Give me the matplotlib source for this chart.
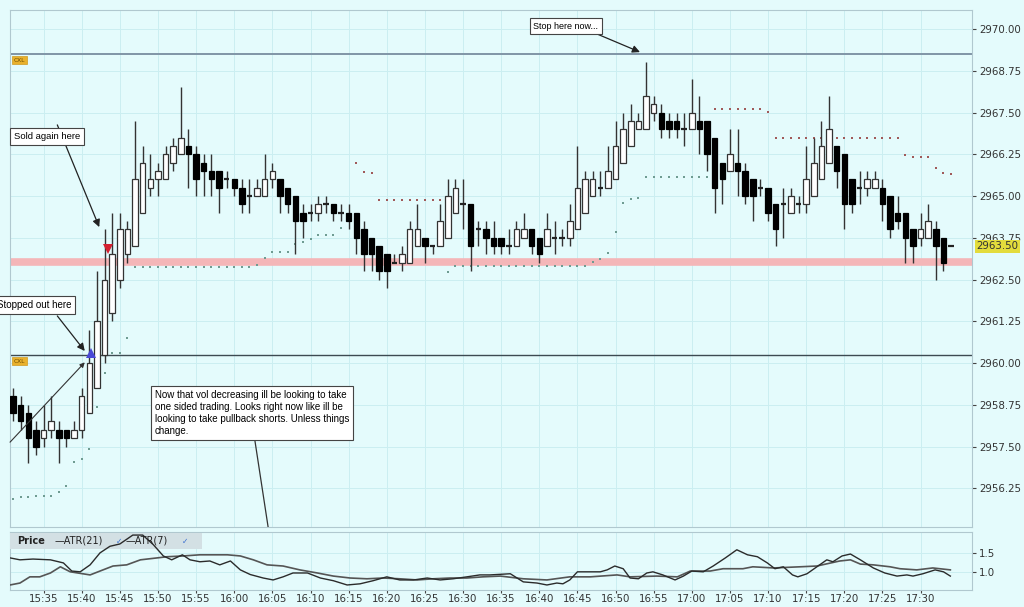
import matplotlib
matplotlib.use("Agg")
import matplotlib.pyplot as plt
from matplotlib.patches import Rectangle

# one bar per minute, bar 0 = 15:31
OPEN = [2959.00, 2958.75, 2958.50, 2958.00, 2957.75, 2958.00, 2958.00, 2958.00, 2957.75, 2958.00,
        2958.50, 2959.25, 2960.25, 2961.50, 2962.50, 2963.25, 2963.50, 2964.50, 2965.25, 2965.50,
        2965.50, 2966.00, 2966.25, 2966.50, 2966.25, 2966.00, 2965.75, 2965.75, 2965.50, 2965.50,
        2965.25, 2965.00, 2965.00, 2965.00, 2965.50, 2965.50, 2965.25, 2965.00, 2964.50, 2964.50,
        2964.50, 2964.75, 2964.75, 2964.50, 2964.50, 2964.50, 2964.00, 2963.75, 2963.50, 2963.25,
        2963.00, 2963.00, 2963.00, 2963.50, 2963.75, 2963.50, 2963.50, 2963.75, 2964.50, 2964.75,
        2964.75, 2964.00, 2964.00, 2963.75, 2963.75, 2963.50, 2963.50, 2963.75, 2964.00, 2963.75,
        2963.50, 2963.75, 2963.75, 2963.75, 2964.00, 2964.50, 2965.00, 2965.25, 2965.25, 2965.50,
        2966.00, 2966.50, 2967.00, 2967.00, 2967.50, 2967.50, 2967.25, 2967.25, 2967.00, 2967.00,
        2967.25, 2967.25, 2966.75, 2966.00, 2965.75, 2966.00, 2965.75, 2965.50, 2965.25, 2965.25,
        2964.75, 2964.75, 2964.50, 2964.75, 2964.75, 2965.00, 2965.50, 2966.00, 2966.50, 2966.25,
        2965.50, 2965.25, 2965.25, 2965.25, 2965.25, 2965.00, 2964.50, 2964.50, 2964.00, 2963.75,
        2963.75, 2964.00, 2963.75, 2963.50]
HIGH = [2959.25, 2959.00, 2958.75, 2958.25, 2958.75, 2959.00, 2958.25, 2958.00, 2958.25, 2959.25,
        2961.00, 2962.75, 2964.00, 2964.50, 2964.50, 2964.25, 2967.25, 2966.50, 2966.25, 2966.00,
        2966.50, 2966.75, 2968.25, 2967.00, 2966.50, 2966.25, 2966.25, 2965.75, 2965.75, 2965.50,
        2965.50, 2965.50, 2965.50, 2966.25, 2966.00, 2965.50, 2965.25, 2965.00, 2964.75, 2964.75,
        2965.00, 2965.00, 2964.75, 2964.75, 2964.75, 2964.50, 2964.25, 2963.75, 2963.50, 2963.25,
        2963.25, 2963.50, 2964.25, 2964.75, 2963.75, 2963.50, 2964.75, 2965.50, 2965.50, 2965.50,
        2964.75, 2964.25, 2964.25, 2964.25, 2963.75, 2964.00, 2964.25, 2964.50, 2964.00, 2963.75,
        2964.50, 2964.25, 2964.00, 2964.75, 2966.50, 2965.75, 2965.75, 2965.75, 2966.50, 2967.25,
        2967.50, 2967.75, 2967.50, 2969.00, 2968.00, 2967.75, 2967.50, 2967.50, 2967.50, 2968.50,
        2968.00, 2967.25, 2966.75, 2966.00, 2967.00, 2967.00, 2966.00, 2965.50, 2965.50, 2965.25,
        2964.75, 2965.25, 2965.25, 2965.00, 2966.50, 2966.75, 2967.25, 2968.00, 2966.50, 2966.25,
        2965.50, 2965.75, 2965.75, 2965.75, 2965.50, 2965.00, 2965.00, 2964.50, 2964.00, 2964.50,
        2964.75, 2964.25, 2963.75, 2963.50]
LOW = [2958.25, 2958.00, 2957.00, 2957.25, 2957.50, 2957.75, 2957.00, 2957.50, 2957.75, 2957.75,
       2958.50, 2959.25, 2960.00, 2961.25, 2962.25, 2963.00, 2963.50, 2964.50, 2965.00, 2965.00,
       2965.50, 2965.75, 2966.25, 2965.25, 2965.00, 2965.00, 2965.00, 2964.50, 2965.25, 2965.00,
       2964.50, 2964.50, 2965.00, 2965.00, 2965.25, 2964.50, 2964.50, 2963.25, 2963.75, 2964.25,
       2964.25, 2964.50, 2964.25, 2964.25, 2964.00, 2963.25, 2962.75, 2962.75, 2962.50, 2962.25,
       2963.00, 2962.75, 2963.00, 2963.50, 2963.00, 2963.25, 2963.50, 2963.75, 2964.50, 2964.00,
       2962.75, 2963.50, 2963.25, 2963.25, 2963.25, 2963.25, 2963.50, 2963.75, 2963.25, 2963.00,
       2963.50, 2963.25, 2963.50, 2963.50, 2964.00, 2964.50, 2965.00, 2965.00, 2965.25, 2965.50,
       2966.00, 2966.50, 2967.00, 2967.00, 2967.25, 2966.75, 2966.75, 2966.75, 2966.50, 2967.00,
       2966.25, 2965.75, 2964.50, 2964.75, 2965.75, 2965.00, 2964.75, 2964.25, 2965.00, 2964.25,
       2963.50, 2963.75, 2964.50, 2964.50, 2964.50, 2965.00, 2965.50, 2966.00, 2965.25, 2964.00,
       2964.50, 2964.75, 2965.00, 2965.25, 2964.25, 2963.75, 2964.00, 2963.00, 2963.00, 2963.50,
       2963.75, 2962.50, 2962.75, 2963.50]
CLOSE = [2958.50, 2958.25, 2957.75, 2957.50, 2958.00, 2958.25, 2957.75, 2957.75, 2958.00, 2959.00,
         2960.00, 2961.25, 2962.50, 2963.25, 2964.00, 2964.00, 2965.50, 2966.00, 2965.50, 2965.75,
         2966.25, 2966.50, 2966.75, 2966.25, 2965.50, 2965.75, 2965.50, 2965.25, 2965.50, 2965.25,
         2964.75, 2965.00, 2965.25, 2965.50, 2965.75, 2965.00, 2964.75, 2964.25, 2964.25, 2964.50,
         2964.75, 2964.75, 2964.50, 2964.50, 2964.25, 2963.75, 2963.25, 2963.25, 2962.75, 2962.75,
         2963.00, 2963.25, 2964.00, 2964.00, 2963.50, 2963.50, 2964.25, 2965.00, 2965.25, 2964.75,
         2963.50, 2964.00, 2963.75, 2963.50, 2963.50, 2963.50, 2964.00, 2964.00, 2963.50, 2963.25,
         2964.00, 2963.75, 2963.75, 2964.25, 2965.25, 2965.50, 2965.50, 2965.25, 2965.75, 2966.50,
         2967.00, 2967.25, 2967.25, 2968.00, 2967.75, 2967.00, 2967.00, 2967.00, 2967.00, 2967.50,
         2967.00, 2966.25, 2965.25, 2965.50, 2966.25, 2965.75, 2965.00, 2965.00, 2965.25, 2964.50,
         2964.00, 2964.75, 2965.00, 2964.75, 2965.50, 2966.00, 2966.50, 2967.00, 2965.75, 2964.75,
         2964.75, 2965.25, 2965.50, 2965.50, 2964.75, 2964.00, 2964.25, 2963.75, 2963.50, 2964.00,
         2964.25, 2963.50, 2963.00, 2963.50]

# parabolic stop dots (None = hidden behind a bar)
SAR = [2955.93, 2955.99, 2955.99, 2956.02, 2956.02, 2956.02, 2956.14, 2956.32, 2957.04, 2957.13,
       2957.43, 2958.68, 2959.70, 2960.30, 2960.30, 2960.75, 2962.87, 2962.87, 2962.87, 2962.87,
       2962.87, 2962.87, 2962.87, 2962.87, 2962.87, 2962.87, 2962.87, 2962.87, 2962.87, 2962.87,
       2962.87, 2962.87, 2962.93, 2963.14, 2963.32, 2963.32, 2963.32, 2963.56, 2963.62, 2963.71,
       2963.83, 2963.83, 2963.83, 2964.04, None, 2965.99, 2965.72, 2965.69, 2964.88, 2964.88,
       2964.88, 2964.88, 2964.88, 2964.88, 2964.88, 2964.88, 2964.88, 2962.72, 2962.90, 2962.90,
       2962.90, 2962.90, 2962.90, 2962.90, 2962.90, 2962.90, 2962.90, 2962.90, 2962.90, 2962.90,
       2962.90, 2962.90, 2962.90, 2962.90, 2962.90, 2962.90, 2963.02, 2963.11, 2963.29, 2963.92,
       2964.79, 2964.91, 2964.94, 2965.57, 2965.57, 2965.57, 2965.57, 2965.57, 2965.57, 2965.57,
       2965.57, 2965.57, 2967.60, 2967.60, 2967.60, 2967.60, 2967.60, 2967.60, 2967.60, 2967.51,
       2966.74, 2966.74, 2966.74, 2966.74, 2966.74, 2966.74, 2966.74, 2966.74, 2966.74, 2966.74,
       2966.74, 2966.74, 2966.74, 2966.74, 2966.74, 2966.74, 2966.74, 2966.23, 2966.17, 2966.17,
       2966.17, 2965.84, 2965.69, 2965.66]

ATR7_X = [-0.4, 0.9, 2.6, 4.9, 6.6, 7.7, 8.8, 10.1, 11.4, 12.7, 14.0, 15.7, 17.0, 18.4, 19.7, 20.8,
          22.2, 23.2, 24.5, 25.8, 27.1, 28.5, 29.8, 31.1, 32.8, 34.1, 35.4, 36.7, 38.6, 40.3, 42.0,
          43.8, 45.5, 47.2, 49.0, 50.7, 52.5, 54.3, 56.0, 57.7, 59.5, 61.2, 62.5, 65.2, 66.9, 68.7,
          70.0, 71.3, 72.1, 73.0, 74.0, 77.0, 77.9, 78.9, 80.0, 80.9, 82.0, 83.1, 83.9, 85.2, 86.8,
          87.9, 89.0, 90.5, 91.8, 93.4, 94.9, 96.3, 97.6, 98.9, 99.9, 101.0, 102.2, 102.9, 104.1,
          105.4, 106.7, 107.5, 108.7, 109.8, 111.1, 112.8, 114.3, 115.9, 117.2, 118.0, 119.3, 120.9,
          122.0, 122.9]
ATR7_Y = [1.37, 1.32, 1.34, 1.32, 1.24, 1.03, 1.01, 1.19, 1.50, 1.67, 1.73, 1.96, 1.96, 1.71, 1.42, 1.32,
          1.45, 1.32, 1.27, 1.29, 1.19, 1.29, 1.06, 0.94, 0.85, 0.80, 0.88, 0.98, 0.98, 0.85, 0.78,
          0.67, 0.70, 0.78, 0.88, 0.80, 0.80, 0.85, 0.80, 0.83, 0.88, 0.93, 0.93, 0.96, 0.75, 0.72,
          0.67, 0.72, 0.70, 0.80, 1.01, 1.01, 1.06, 1.16, 1.09, 0.85, 0.83, 0.98, 1.01, 0.93, 0.80,
          0.90, 1.03, 1.01, 1.16, 1.37, 1.58, 1.45, 1.40, 1.24, 1.09, 1.14, 0.93, 0.88, 0.96,
          1.14, 1.32, 1.27, 1.42, 1.47, 1.32, 1.11, 0.98, 0.90, 0.93, 0.90, 0.96, 1.06,
          1.01, 0.90]
ATR21_X = [-0.4, 0.9, 2.2, 3.5, 4.9, 6.2, 7.5, 10.1, 11.4, 13.1, 14.9, 16.7, 18.9, 20.2, 22.3, 24.5,
           28.1, 29.8, 31.5, 33.3, 35.4, 37.6, 39.9, 42.0, 44.2, 46.4, 48.5, 50.7, 53.0, 55.1, 57.3,
           59.5, 61.6, 63.9, 66.9, 70.0, 73.0, 75.7, 79.2, 80.9, 84.4, 87.1, 88.8, 91.4, 93.1, 95.7,
           97.0, 99.7, 103.2, 105.4, 108.4, 109.8, 111.1, 112.8, 115.0, 116.3, 118.5, 120.6, 122.9]
ATR21_Y = [0.67, 0.72, 0.88, 0.88, 0.98, 1.14, 1.01, 0.93, 1.03, 1.16, 1.19, 1.32, 1.37, 1.40, 1.42, 1.45,
           1.45, 1.42, 1.32, 1.19, 1.16, 1.06, 0.98, 0.90, 0.85, 0.83, 0.85, 0.83, 0.80, 0.83, 0.85,
           0.85, 0.88, 0.90, 0.83, 0.80, 0.88, 0.88, 0.93, 0.88, 0.90, 0.88, 1.03, 1.03, 1.09, 1.09,
           1.14, 1.11, 1.14, 1.16, 1.29, 1.32, 1.21, 1.19, 1.14, 1.09, 1.06, 1.11, 1.06]

TIME_TICKS = [4, 9, 14, 19, 24, 29, 34, 39, 44, 49, 54, 59, 64, 69, 74, 79, 84, 89, 94, 99, 104, 109, 114, 119]
TIME_LABELS = ["15:35", "15:40", "15:45", "15:50", "15:55", "16:00", "16:05", "16:10", "16:15", "16:20",
               "16:25", "16:30", "16:35", "16:40", "16:45", "16:50", "16:55", "17:00", "17:05", "17:10",
               "17:15", "17:20", "17:25", "17:30"]
PRICE_TICKS = [2956.25, 2957.50, 2958.75, 2960.00, 2961.25, 2962.50, 2963.75, 2965.00, 2966.25,
               2967.50, 2968.75, 2970.00]
ATR_TICKS = [1.0, 1.5]

STOP_LINE = 2969.25
ENTRY_LINE = 2960.25
TARGET_BAND = 2963.03
LAST_PRICE = 2963.50

BG = "#e4fbfc"
GRID = "#cbeef1"
EDGE = "#333333"
NOTE_FONT = "Liberation Sans"
BODY_W = 0.72


def draw_candles(ax):
    for i, (o, h, l, c) in enumerate(zip(OPEN, HIGH, LOW, CLOSE)):
        ax.vlines(i, l, h, color=EDGE, lw=1.0, zorder=3)
        if c > o:
            ax.add_patch(Rectangle((i - BODY_W / 2, o), BODY_W, c - o, facecolor="white",
                                   edgecolor=EDGE, lw=0.9, zorder=4))
        elif c < o:
            ax.add_patch(Rectangle((i - BODY_W / 2, c), BODY_W, o - c, facecolor="black",
                                   edgecolor="black", lw=0.9, zorder=4))
        else:
            ax.hlines(o, i - BODY_W / 2, i + BODY_W / 2, color="#222222", lw=1.6, zorder=4)


def draw_sar(ax):
    for i, s in enumerate(SAR):
        if s is None:
            continue
        col = "#a05a5a" if s > CLOSE[i] else "#6f9c92"
        ax.plot(i, s, marker="s", ms=1.9, color=col, mew=0, zorder=2.5)


def draw_notes(ax):
    box = dict(boxstyle="square,pad=0.4", facecolor="white", edgecolor="#444444", lw=0.8)
    arrow = dict(arrowstyle="-|>", color="#222222", lw=0.9, mutation_scale=11, shrinkA=0, shrinkB=0)

    ax.annotate("", xy=(82.2, 2969.31), xytext=(76.7, 2969.84), arrowprops=arrow, zorder=6)
    ax.text(72.5, 2970.09, "Stop here now...", ha="center", va="center", fontsize=6.5,
            family=NOTE_FONT, bbox=box, zorder=7)

    ax.annotate("", xy=(11.3, 2964.07), xytext=(5.8, 2967.13), arrowprops=arrow, zorder=6)
    ax.text(0.1, 2966.78, "Sold again here", ha="left", va="center", fontsize=6.8,
            family=NOTE_FONT, bbox=box, zorder=7)

    ax.annotate("", xy=(9.4, 2960.36), xytext=(5.8, 2961.41), arrowprops=arrow, zorder=6)
    ax.text(7.6, 2961.74, "Stopped out here", ha="right", va="center", fontsize=7.0,
            family=NOTE_FONT, bbox=box, zorder=7)

    ax.annotate("", xy=(9.4, 2960.02), xytext=(-0.4, 2957.63),
                arrowprops=dict(arrowstyle="-|>", color="#333333", lw=0.8, mutation_scale=7,
                                shrinkA=0, shrinkB=0), zorder=6)

    ax.plot([31.7, 33.5], [2957.69, 2955.0], color="#333333", lw=0.9, zorder=6)
    ax.text(18.6, 2959.20,
            "Now that vol decreasing ill be looking to take\n"
            "one sided trading. Looks right now like ill be\n"
            "looking to take pullback shorts. Unless things\n"
            "change.",
            ha="left", va="top", fontsize=7.0, family=NOTE_FONT, linespacing=1.25,
            bbox=dict(boxstyle="square,pad=0.4", facecolor="white", edgecolor="#444444", lw=0.8),
            zorder=7)

    ax.plot(12.4, 2963.41, marker="v", ms=6.5, color="#d42030", mew=0, zorder=8)
    ax.plot(10.2, 2960.30, marker="^", ms=6.5, color="#4a48d6", mew=0, zorder=8)

    cxl = dict(boxstyle="square,pad=0.25", facecolor="#e9b12c", edgecolor="#d09a20", lw=0.5)
    for level in [2969.07, 2960.06]:
        ax.text(0.1, level, "CXL", ha="left", va="center", fontsize=4.2, color="#6a4a00",
                bbox=cxl, zorder=7)

    ax.annotate(f"{LAST_PRICE:.2f}", xy=(1.0, LAST_PRICE), xycoords=("axes fraction", "data"),
                xytext=(3, 0), textcoords="offset points", ha="left", va="center", fontsize=7.4,
                color="#333333", annotation_clip=False,
                bbox=dict(boxstyle="square,pad=0.15", facecolor="#e3dc3c", edgecolor="none"),
                zorder=9)


def main():
    fig = plt.figure(figsize=(10.24, 6.07), dpi=100, facecolor=BG)
    ax = fig.add_axes([0.0098, 0.1318, 0.9395, 0.8517], facecolor=BG)
    ax2 = fig.add_axes([0.0098, 0.028, 0.9395, 0.0956], facecolor=BG, sharex=ax)

    xlim = (-0.4, 125.75)
    ax.set_xlim(xlim)
    ax.set_ylim(2955.09, 2970.57)

    ax.set_xticks(TIME_TICKS)
    ax.set_yticks(PRICE_TICKS)
    ax.set_yticklabels([f"{p:.2f}" for p in PRICE_TICKS])
    ax.yaxis.tick_right()
    ax.tick_params(axis="x", length=0, labelbottom=False)
    ax.tick_params(axis="y", length=3, pad=2, labelsize=7.4, colors="#444444", labelcolor="#333333")
    ax.grid(True, color=GRID, lw=0.7)
    ax.set_axisbelow(True)
    for sp in ax.spines.values():
        sp.set_color("#b0c8cf")
        sp.set_linewidth(0.8)

    ax.axhline(STOP_LINE, color="#8095a6", lw=1.4, zorder=2)
    ax.axhline(ENTRY_LINE, color="#3d4a52", lw=1.0, zorder=2)
    ax.axhline(TARGET_BAND, color="#f4b6b8", lw=5.5, zorder=2)

    draw_sar(ax)
    draw_candles(ax)
    draw_notes(ax)

    # ATR sub panel
    ax2.plot(ATR21_X, ATR21_Y, color="#555555", lw=1.2, zorder=4)
    ax2.plot(ATR7_X, ATR7_Y, color="#2b2b2b", lw=1.0, zorder=4)
    ax2.set_ylim(0.54, 2.04)
    ax2.set_yticks(ATR_TICKS)
    ax2.set_yticklabels([f"{v:.1f}" for v in ATR_TICKS])
    ax2.yaxis.tick_right()
    ax2.set_xticks(TIME_TICKS)
    ax2.set_xticklabels(TIME_LABELS)
    ax2.set_xlim(xlim)
    ax2.tick_params(axis="x", length=2, pad=1, labelsize=7.4, colors="#444444", labelcolor="#333333")
    ax2.tick_params(axis="y", length=3, pad=2, labelsize=7.4, colors="#444444", labelcolor="#333333")
    ax2.grid(True, color=GRID, lw=0.7)
    ax2.set_axisbelow(True)
    for sp in ax2.spines.values():
        sp.set_color("#b0c8cf")
        sp.set_linewidth(0.8)

    ax2.add_patch(Rectangle((0.0, 0.70), 0.2, 0.29, transform=ax2.transAxes, facecolor="#d3e0e4",
                            edgecolor="none", zorder=3))
    ax2.text(0.007, 0.845, "Price", transform=ax2.transAxes, ha="left", va="center",
             fontsize=7, fontweight="bold", color="#222222", zorder=5)
    ax2.text(0.046, 0.845, "\u2014ATR(21)", transform=ax2.transAxes, ha="left", va="center",
             fontsize=7, color="#222222", zorder=5)
    ax2.text(0.110, 0.845, "\u2713", transform=ax2.transAxes, ha="left", va="center",
             fontsize=5.5, color="#3a6fd0", zorder=5)
    ax2.text(0.120, 0.845, "\u2014ATR(7)", transform=ax2.transAxes, ha="left", va="center",
             fontsize=7, color="#222222", zorder=5)
    ax2.text(0.179, 0.845, "\u2713", transform=ax2.transAxes, ha="left", va="center",
             fontsize=5.5, color="#3a6fd0", zorder=5)

    fig.savefig("out.png", dpi=100, facecolor=BG)
    plt.close(fig)


main()
